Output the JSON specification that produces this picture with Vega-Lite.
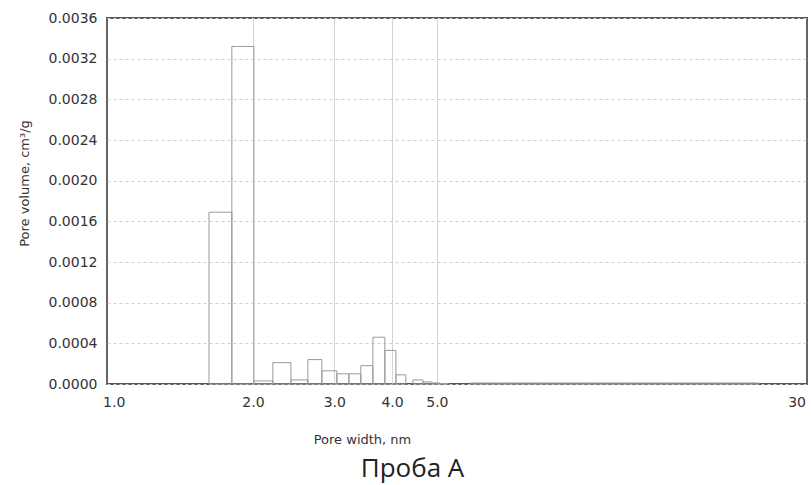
{
  "$schema": "https://vega.github.io/schema/vega-lite/v6.json",
  "width": 700,
  "height": 366,
  "autosize": {"type": "none"},
  "padding": {"left": 107, "top": 18, "right": 4, "bottom": 101},
  "background": "white",
  "title": {
    "text": "Проба А",
    "orient": "bottom",
    "anchor": "middle",
    "frame": "bounds",
    "font": "Open Sans",
    "fontSize": 26,
    "fontWeight": "normal",
    "color": "#222",
    "offset": 10
  },
  "config": {
    "view": {"stroke": "#555", "strokeWidth": 1.8},
    "axis": {
      "labelFont": "DejaVu Sans",
      "titleFont": "DejaVu Sans",
      "labelColor": "#333",
      "titleColor": "#333",
      "titleFontWeight": "normal",
      "domain": false,
      "ticks": false
    }
  },
  "data": {
    "values": [
      {"x0": 1.607, "x1": 1.801, "v": 0.00169},
      {"x0": 1.801, "x1": 2.01, "v": 0.00332},
      {"x0": 2.01, "x1": 2.209, "v": 0.00003},
      {"x0": 2.209, "x1": 2.417, "v": 0.00021},
      {"x0": 2.417, "x1": 2.63, "v": 0.00004},
      {"x0": 2.63, "x1": 2.82, "v": 0.00024},
      {"x0": 2.82, "x1": 3.039, "v": 0.00013},
      {"x0": 3.039, "x1": 3.226, "v": 0.0001},
      {"x0": 3.226, "x1": 3.424, "v": 0.0001},
      {"x0": 3.424, "x1": 3.636, "v": 0.00018},
      {"x0": 3.636, "x1": 3.859, "v": 0.00046},
      {"x0": 3.859, "x1": 4.077, "v": 0.00033},
      {"x0": 4.077, "x1": 4.284, "v": 0.00009},
      {"x0": 4.437, "x1": 4.664, "v": 0.00004},
      {"x0": 4.664, "x1": 4.878, "v": 0.00002},
      {"x0": 4.878, "x1": 5.077, "v": 0.00001},
      {"x0": 5.077, "x1": 5.3, "v": 0.000005},
      {"x0": 5.92, "x1": 7.0, "v": 0.00001},
      {"x0": 7.0, "x1": 8.5, "v": 0.00001},
      {"x0": 8.5, "x1": 10.5, "v": 0.00001},
      {"x0": 10.5, "x1": 13.0, "v": 0.00001},
      {"x0": 13.0, "x1": 16.0, "v": 0.00001},
      {"x0": 16.0, "x1": 20.0, "v": 0.00001},
      {"x0": 20.0, "x1": 24.85, "v": 0.00001}
    ]
  },
  "mark": {"type": "rect", "fill": "white", "fillOpacity": 0, "stroke": "#999", "strokeWidth": 1},
  "encoding": {
    "x": {
      "field": "x0",
      "type": "quantitative",
      "scale": {"type": "log", "domain": [0.967, 31.6], "nice": false},
      "axis": {
        "values": [1, 2, 3, 4, 5, 30],
        "labelExpr": "datum.value == 30 ? '30' : format(datum.value, '.1f')",
        "labelFontSize": 14,
        "labelPadding": 11,
        "labelFlush": false,
        "grid": true,
        "gridColor": {"condition": {"test": "datum.value == 1 || datum.value == 30", "value": "transparent"}, "value": "#d4d4d4"},
        "title": "Pore width, nm",
        "titleFontSize": 13,
        "titleX": 255,
        "titleAnchor": "middle",
        "titlePadding": 24
      }
    },
    "x2": {"field": "x1"},
    "y": {
      "field": "v",
      "type": "quantitative",
      "scale": {"domain": [0, 0.0036], "nice": false},
      "axis": {
        "values": [0, 0.0004, 0.0008, 0.0012, 0.0016, 0.002, 0.0024, 0.0028, 0.0032, 0.0036],
        "format": ".4f",
        "labelFontSize": 14,
        "labelPadding": 10,
        "labelFlush": false,
        "grid": true,
        "gridColor": "#cfcfcf",
        "gridDash": [3, 3],
        "title": "Pore volume, cm³/g",
        "titleFontSize": 13,
        "titleY": 165,
        "titlePadding": 17
      }
    },
    "y2": {"datum": 0}
  }
}
